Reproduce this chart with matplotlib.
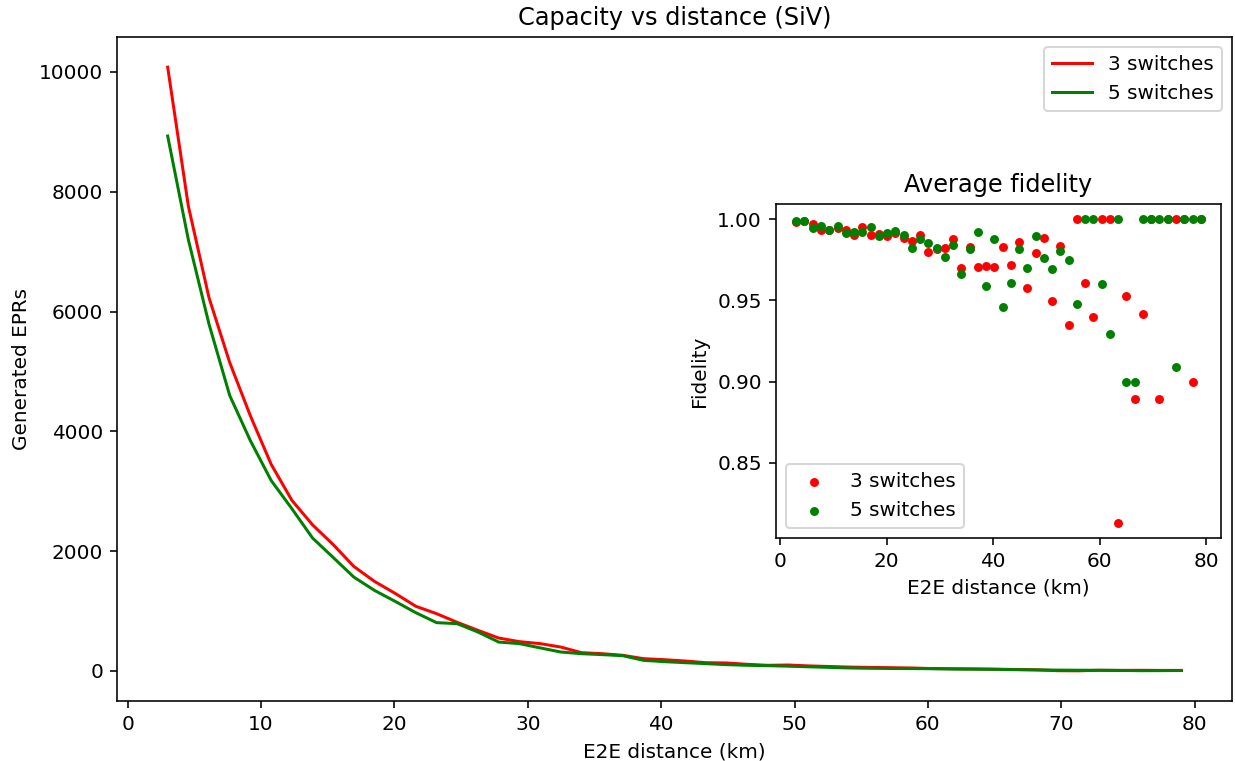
import numpy as np
import matplotlib
matplotlib.use("Agg")
import matplotlib.pyplot as plt
from matplotlib.ticker import MultipleLocator

# distances (km), same grid for both plots
dist = [3.00, 4.55, 6.10, 7.65, 9.20, 10.76, 12.31, 13.86, 15.41, 16.96,
        18.51, 20.06, 21.61, 23.16, 24.71, 26.27, 27.82, 29.37, 30.92, 32.47,
        34.02, 35.57, 37.12, 38.67, 40.22, 41.78, 43.33, 44.88, 46.43, 47.98,
        49.53, 51.08, 52.63, 54.18, 55.73, 57.29, 58.84, 60.39, 61.94, 63.49,
        65.04, 66.59, 68.14, 69.69, 71.24, 72.80, 74.35, 75.90, 77.45, 79.00]

# generated EPRs
epr_3 = [10080, 7760, 6230, 5150, 4260, 3450, 2850, 2440, 2110, 1745,
         1495, 1295, 1080, 957, 812, 678, 550, 490, 457, 400,
         306, 289, 262, 206, 189, 167, 139, 134, 112, 95,
         100, 85, 75, 65, 60, 55, 50, 40, 38, 35,
         30, 25, 20, 5, 3, 12, 10, 12, 10, 10]
epr_5 = [8930, 7200, 5790, 4600, 3845, 3180, 2710, 2220, 1895, 1567,
         1345, 1162, 973, 807, 790, 650, 483, 457, 386, 317,
         289, 273, 256, 178, 156, 139, 123, 106, 95, 89,
         80, 70, 60, 50, 45, 42, 40, 38, 32, 30,
         28, 22, 18, 15, 13, 12, 10, 5, 6, 8]

# average fidelity
fid_3 = [0.998, 0.999, 0.997, 0.9934, 0.9932, 0.9944, 0.9934, 0.9903, 0.9951, 0.9903,
         0.9909, 0.9899, 0.9914, 0.9887, 0.9864, 0.9901, 0.980, 0.9815, 0.9825, 0.9877,
         0.970, 0.9827, 0.9704, 0.9714, 0.9706, 0.9831, 0.9718, 0.9862, 0.9574, 0.979,
         0.9885, 0.9496, 0.9837, 0.9347, 1.0, 0.9609, 0.9397, 1.0, 1.0, 0.813,
         0.9527, 0.889, 0.9416, 1.0, 0.889, 1.0, 1.0, 1.0, 0.900, 1.0]
fid_5 = [0.9986, 0.9986, 0.9944, 0.9959, 0.9936, 0.9961, 0.9916, 0.9918, 0.9918, 0.9949,
         0.9895, 0.9912, 0.9928, 0.9903, 0.9823, 0.9881, 0.9852, 0.9823, 0.977, 0.9842,
         0.9665, 0.9815, 0.9922, 0.9588, 0.9879, 0.9461, 0.9609, 0.9819, 0.9697, 0.9897,
         0.9759, 0.9693, 0.9807, 0.9751, 0.9475, 1.0, 1.0, 0.960, 0.929, 1.0,
         0.900, 0.900, 1.0, 1.0, 1.0, 1.0, 0.909, 1.0, 1.0, 1.0]

W, H = 1235, 761
DPI = 144
fig = plt.figure(figsize=(W / DPI, H / DPI), dpi=DPI)

# main plot
ax = fig.add_axes([117 / W, 1 - 701 / H, (1232 - 117) / W, (701 - 37) / H])
ax.plot(dist, epr_3, color="red", label="3 switches")
ax.plot(dist, epr_5, color="green", label="5 switches")
ax.set_title("Capacity vs distance (SiV)")
ax.set_xlabel("E2E distance (km)")
ax.set_ylabel("Generated EPRs")
ax.legend(loc="upper right")

# inset
axi = fig.add_axes([776 / W, 1 - 538 / H, (1221 - 776) / W, (538 - 204) / H])
axi.scatter(dist, fid_3, color="red", s=12, label="3 switches")
axi.scatter(dist, fid_5, color="green", s=12, label="5 switches")
axi.yaxis.set_major_locator(MultipleLocator(0.05))
axi.set_title("Average fidelity")
axi.set_xlabel("E2E distance (km)")
axi.set_ylabel("Fidelity")
axi.legend(loc="lower left")

fig.savefig("out.png", dpi=DPI)
